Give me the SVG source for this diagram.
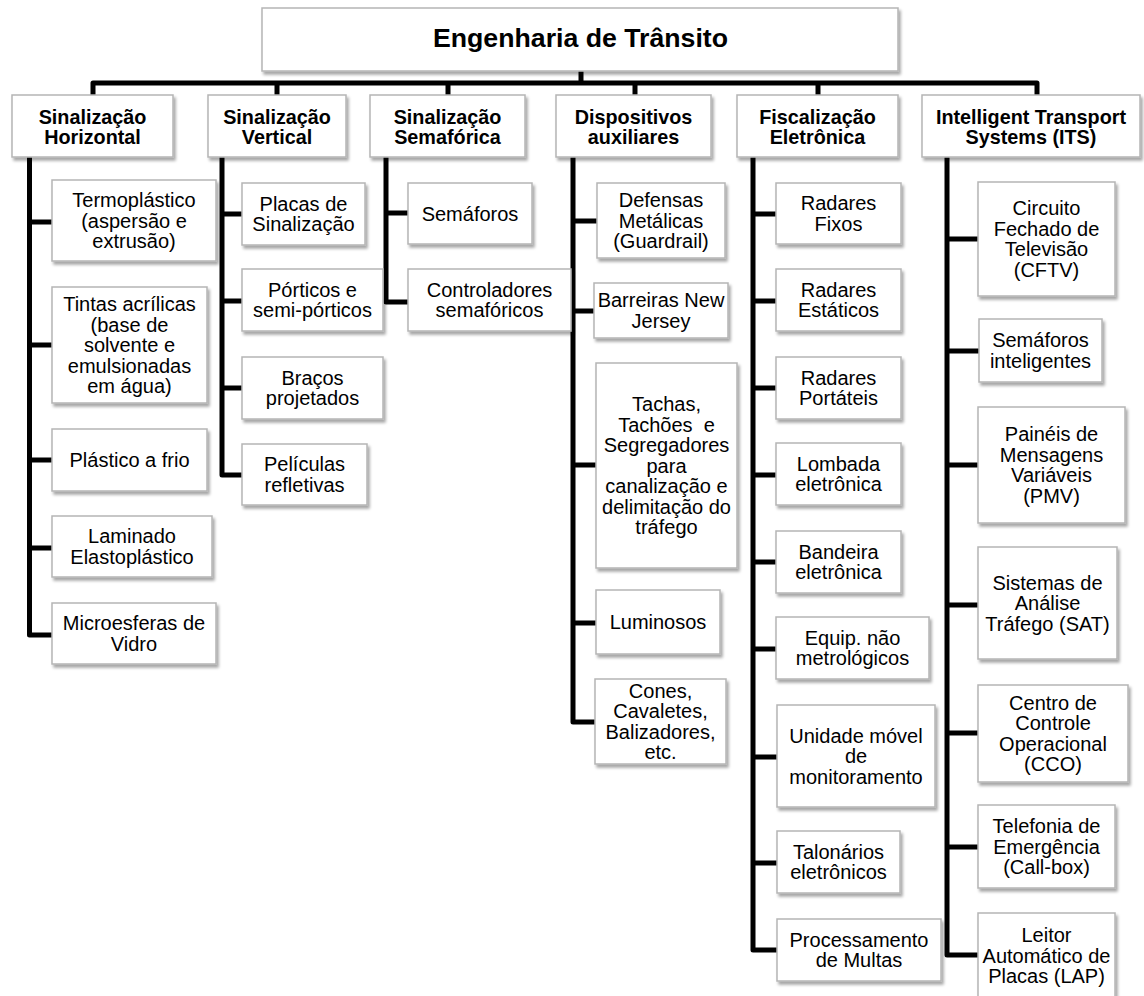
<svg xmlns="http://www.w3.org/2000/svg" width="1144" height="996" viewBox="0 0 1144 996">
<defs>
<filter id="sh" x="-10%" y="-10%" width="125%" height="130%">
<feDropShadow dx="2" dy="3" stdDeviation="1.8" flood-color="#000" flood-opacity="0.35"/>
</filter>
</defs>
<style>
.box{fill:#fff;stroke:#b5b5b5;stroke-width:1.5;filter:url(#sh)}
text{font-family:"Liberation Sans",Arial,Helvetica,sans-serif;font-size:20px;text-anchor:middle;fill:#000}
.h{font-weight:bold;font-size:19.8px}
.r{font-size:26.7px;font-weight:bold}
.c{fill:none;stroke:#000;stroke-width:5;stroke-linejoin:round}
</style>
<rect width="1144" height="996" fill="#fff"/>
<g id="connectors" class="c">
<path d="M581,71V83"/>
<path d="M93,96V83H1037V96"/>
<path d="M277,83V96M448,83V96M635,83V96M818,83V96"/>
<path d="M29.5,157V635H53M29.5,222H53M29.5,345H53M29.5,460H53M29.5,548H53"/>
<path d="M222,157V475H243M222,214H243M222,301H243M222,388H243"/>
<path d="M386,157V302H409M386,213H409"/>
<path d="M573,157V722H596M573,221H598M573,311H595M573,465H597M573,623H597"/>
<path d="M753,157V950H778M753,214H777M753,301H777M753,388H777M753,475H777M753,562H777M753,649H777M753,757H778M753,863H778"/>
<path d="M947,157V955H979M947,239H979M947,351H980M947,465H979M947,605H979M947,733H979M947,847H979"/>
</g>
<g id="root"><rect class="box" x="262" y="8" width="636" height="63"/><text class="r" x="580.5" y="47">Engenharia de Trânsito</text></g>
<g id="c1"><rect class="box" x="12" y="95" width="161" height="62"/><text class="h" x="92.5" y="124">Sinalização</text><text class="h" x="92.5" y="144">Horizontal</text></g>
<g id="c2"><rect class="box" x="208" y="95" width="138" height="62"/><text class="h" x="277" y="124">Sinalização</text><text class="h" x="277" y="144">Vertical</text></g>
<g id="c3"><rect class="box" x="370" y="95" width="155" height="62"/><text class="h" x="447.5" y="124">Sinalização</text><text class="h" x="447.5" y="144">Semafórica</text></g>
<g id="c4"><rect class="box" x="556" y="95" width="155" height="62"/><text class="h" x="633.5" y="124">Dispositivos</text><text class="h" x="633.5" y="144">auxiliares</text></g>
<g id="c5"><rect class="box" x="737" y="95" width="161" height="62"/><text class="h" x="817.5" y="124">Fiscalização</text><text class="h" x="817.5" y="144">Eletrônica</text></g>
<g id="c6"><rect class="box" x="922" y="95" width="218" height="62"/><text class="h" x="1031" y="124">Intelligent Transport</text><text class="h" x="1031" y="144">Systems (ITS)</text></g>

<g id="n1a"><rect class="box" x="52" y="180" width="164" height="81"/><text x="134" y="207">Termoplástico</text><text x="134" y="227.5">(aspersão e</text><text x="134" y="248">extrusão)</text></g>
<g id="n1b"><rect class="box" x="52" y="287" width="155" height="116"/><text x="129.5" y="311">Tintas acrílicas</text><text x="129.5" y="331.5">(base de</text><text x="129.5" y="352">solvente e</text><text x="129.5" y="372.5">emulsionadas</text><text x="129.5" y="393">em água)</text></g>
<g id="n1c"><rect class="box" x="52" y="429" width="155" height="62"/><text x="129.5" y="467">Plástico a frio</text></g>
<g id="n1d"><rect class="box" x="52" y="516" width="160" height="61"/><text x="132" y="543">Laminado</text><text x="132" y="563.5">Elastoplástico</text></g>
<g id="n1e"><rect class="box" x="52" y="603" width="164" height="61"/><text x="134" y="630">Microesferas de</text><text x="134" y="650.5">Vidro</text></g>

<g id="n2a"><rect class="box" x="242" y="183" width="123" height="62"/><text x="303.5" y="210.75">Placas de</text><text x="303.5" y="231.25">Sinalização</text></g>
<g id="n2b"><rect class="box" x="242" y="269" width="141" height="62"/><text x="312.5" y="296.75">Pórticos e</text><text x="312.5" y="317.25">semi-pórticos</text></g>
<g id="n2c"><rect class="box" x="242" y="357" width="141" height="62"/><text x="312.5" y="384.75">Braços</text><text x="312.5" y="405.25">projetados</text></g>
<g id="n2d"><rect class="box" x="242" y="444" width="125" height="61"/><text x="304.5" y="471.25">Películas</text><text x="304.5" y="491.75">refletivas</text></g>

<g id="n3a"><rect class="box" x="408" y="183" width="124" height="61"/><text x="470" y="220.5">Semáforos</text></g>
<g id="n3b"><rect class="box" x="408" y="269" width="163" height="62"/><text x="489.5" y="296.75">Controladores</text><text x="489.5" y="317.25">semafóricos</text></g>

<g id="n4a"><rect class="box" x="597" y="183" width="128" height="75"/><text x="661" y="207">Defensas</text><text x="661" y="227.5">Metálicas</text><text x="661" y="248">(Guardrail)</text></g>
<g id="n4b"><rect class="box" x="594" y="283" width="134" height="55"/><text x="661" y="307.25">Barreiras New</text><text x="661" y="327.75">Jersey</text></g>
<g id="n4c"><rect class="box" x="596" y="363" width="141" height="205"/><text x="666.5" y="411">Tachas,</text><text x="666.5" y="431.5" xml:space="preserve">Tachões  e</text><text x="666.5" y="452">Segregadores</text><text x="666.5" y="472.5">para</text><text x="666.5" y="493">canalização e</text><text x="666.5" y="513.5">delimitação do</text><text x="666.5" y="534">tráfego</text></g>
<g id="n4d"><rect class="box" x="596" y="590" width="124" height="64"/><text x="658" y="629">Luminosos</text></g>
<g id="n4e"><rect class="box" x="595" y="679" width="131" height="85"/><text x="660.5" y="697.75">Cones,</text><text x="660.5" y="718.25">Cavaletes,</text><text x="660.5" y="738.75">Balizadores,</text><text x="660.5" y="759.25">etc.</text></g>

<g id="n5a"><rect class="box" x="776" y="183" width="125" height="61"/><text x="838.5" y="210.25">Radares</text><text x="838.5" y="230.75">Fixos</text></g>
<g id="n5b"><rect class="box" x="776" y="269" width="125" height="62"/><text x="838.5" y="296.75">Radares</text><text x="838.5" y="317.25">Estáticos</text></g>
<g id="n5c"><rect class="box" x="776" y="357" width="125" height="62"/><text x="838.5" y="384.75">Radares</text><text x="838.5" y="405.25">Portáteis</text></g>
<g id="n5d"><rect class="box" x="776" y="443" width="125" height="62"/><text x="838.5" y="470.75">Lombada</text><text x="838.5" y="491.25">eletrônica</text></g>
<g id="n5e"><rect class="box" x="776" y="531" width="125" height="62"/><text x="838.5" y="558.75">Bandeira</text><text x="838.5" y="579.25">eletrônica</text></g>
<g id="n5f"><rect class="box" x="776" y="617" width="153" height="62"/><text x="852.5" y="644.75">Equip. não</text><text x="852.5" y="665.25">metrológicos</text></g>
<g id="n5g"><rect class="box" x="777" y="705" width="158" height="102"/><text x="856" y="742.5">Unidade móvel</text><text x="856" y="763">de</text><text x="856" y="783.5">monitoramento</text></g>
<g id="n5h"><rect class="box" x="777" y="831" width="123" height="62"/><text x="838.5" y="858.75">Talonários</text><text x="838.5" y="879.25">eletrônicos</text></g>
<g id="n5i"><rect class="box" x="777" y="919" width="164" height="62"/><text x="859" y="946.75">Processamento</text><text x="859" y="967.25">de Multas</text></g>

<g id="n6a"><rect class="box" x="978" y="182" width="137" height="114"/><text x="1046.5" y="215.25">Circuito</text><text x="1046.5" y="235.75">Fechado de</text><text x="1046.5" y="256.25">Televisão</text><text x="1046.5" y="276.75">(CFTV)</text></g>
<g id="n6b"><rect class="box" x="979" y="319" width="123" height="63"/><text x="1040.5" y="347.25">Semáforos</text><text x="1040.5" y="367.75">inteligentes</text></g>
<g id="n6c"><rect class="box" x="978" y="407" width="147" height="116"/><text x="1051.5" y="441.25">Painéis de</text><text x="1051.5" y="461.75">Mensagens</text><text x="1051.5" y="482.25">Variáveis</text><text x="1051.5" y="502.75">(PMV)</text></g>
<g id="n6d"><rect class="box" x="978" y="547" width="139" height="112"/><text x="1047.5" y="589.5">Sistemas de</text><text x="1047.5" y="610">Análise</text><text x="1047.5" y="630.5">Tráfego (SAT)</text></g>
<g id="n6e"><rect class="box" x="978" y="685" width="150" height="97"/><text x="1053" y="709.75">Centro de</text><text x="1053" y="730.25">Controle</text><text x="1053" y="750.75">Operacional</text><text x="1053" y="771.25">(CCO)</text></g>
<g id="n6f"><rect class="box" x="978" y="805" width="137" height="83"/><text x="1046.5" y="833">Telefonia de</text><text x="1046.5" y="853.5">Emergência</text><text x="1046.5" y="874">(Call-box)</text></g>
<g id="n6g"><rect class="box" x="978" y="913" width="137" height="95"/><text x="1046.5" y="942">Leitor</text><text x="1046.5" y="962.5">Automático de</text><text x="1046.5" y="983">Placas (LAP)</text></g>
</svg>
